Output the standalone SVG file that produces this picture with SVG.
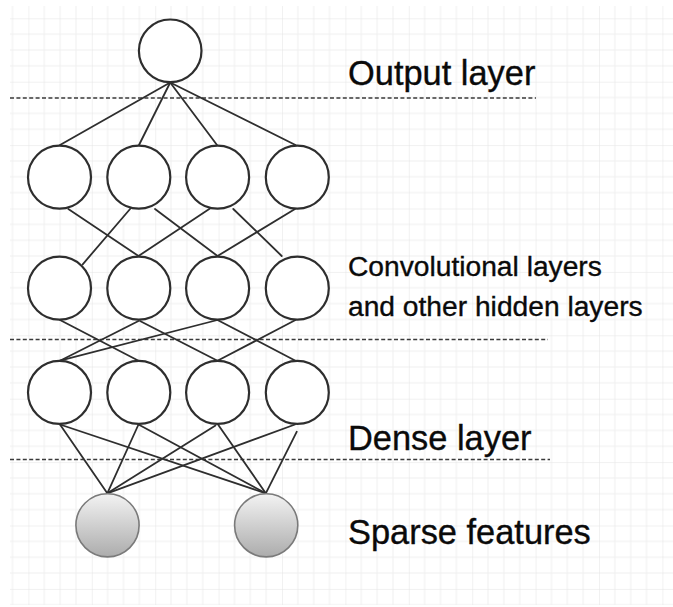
<svg xmlns="http://www.w3.org/2000/svg" width="673" height="607" viewBox="0 0 673 607">
  <style>
    .node { fill: #ffffff; stroke: #2e2e2e; stroke-width: 2.2; }
    .sparse { fill: url(#sparseFill); stroke: #7a7a7a; stroke-width: 1.6; }
    .edge { stroke: #2e2e2e; stroke-width: 1.8; fill: none; stroke-linecap: round; }
    .divider { stroke: #3a3a3a; stroke-width: 1.5; stroke-dasharray: 4 2.4; fill: none; }
    .label { font-family: "Liberation Sans", Arial, Helvetica, sans-serif; fill: #0a0a0a; stroke: #0a0a0a; stroke-width: 0.35; }
    .big { font-size: 34.4px; }
    .small { font-size: 28.2px; }
  </style>
  <defs>
    <pattern id="grid" patternUnits="userSpaceOnUse" x="28.4" y="18.3" width="63.4" height="63.4">
      <path d="M15.85 0V63.4M31.7 0V63.4M47.55 0V63.4M0 15.85H63.4M0 31.7H63.4M0 47.55H63.4" stroke="#f0f0f0" stroke-width="1" fill="none"/>
      <path d="M0 0V63.4M0 0H63.4" stroke="#e3e3e3" stroke-width="1" fill="none"/>
    </pattern>
    <linearGradient id="sparseFill" x1="0" y1="0" x2="0" y2="1">
      <stop offset="0" stop-color="#f3f3f3"/>
      <stop offset="1" stop-color="#acacac"/>
    </linearGradient>
  </defs>

  <!-- canvas -->
  <rect x="0" y="0" width="673" height="607" fill="#ffffff"/>
  <rect x="10" y="6" width="663" height="599" fill="url(#grid)"/>

  <!-- layer dividers -->
  <g id="dividers">
    <line class="divider" x1="10" y1="98" x2="536" y2="98"/>
    <line class="divider" x1="10" y1="339.5" x2="548" y2="339.5"/>
    <line class="divider" x1="10" y1="459.5" x2="550" y2="459.5"/>
  </g>

  <!-- connectors -->
  <g id="edges">
    <!-- output -> first hidden row -->
    <line class="edge" x1="170.2" y1="82.5" x2="60" y2="145"/>
    <line class="edge" x1="170.2" y1="82.5" x2="139" y2="145"/>
    <line class="edge" x1="170.2" y1="82.5" x2="217" y2="145"/>
    <line class="edge" x1="170.2" y1="82.5" x2="295.5" y2="145"/>
    <!-- first hidden row -> second hidden row -->
    <line class="edge" x1="68.3" y1="209" x2="138.5" y2="256"/>
    <line class="edge" x1="130.5" y1="208.5" x2="82.7" y2="264.3"/>
    <line class="edge" x1="155" y1="209" x2="217.5" y2="256"/>
    <line class="edge" x1="210" y1="208.5" x2="138.5" y2="256"/>
    <line class="edge" x1="233.3" y1="209" x2="281.7" y2="256"/>
    <line class="edge" x1="295" y1="209" x2="217.5" y2="256"/>
    <!-- second hidden row -> dense row -->
    <line class="edge" x1="60" y1="320" x2="138.5" y2="360.7"/>
    <line class="edge" x1="138.5" y1="321" x2="60" y2="360.7"/>
    <line class="edge" x1="140" y1="321" x2="217.5" y2="360.7"/>
    <line class="edge" x1="217.5" y1="320" x2="60" y2="360.7"/>
    <line class="edge" x1="217.5" y1="320" x2="295.5" y2="360.7"/>
    <line class="edge" x1="295.5" y1="320" x2="217.5" y2="360.7"/>
    <!-- dense row -> sparse features -->
    <line class="edge" x1="60" y1="424.5" x2="107.3" y2="493.3"/>
    <line class="edge" x1="60" y1="424.5" x2="265.8" y2="493.3"/>
    <line class="edge" x1="138.5" y1="424.5" x2="107.3" y2="493.3"/>
    <line class="edge" x1="138.5" y1="424.5" x2="265.8" y2="493.3"/>
    <line class="edge" x1="215.5" y1="425.5" x2="107.3" y2="493.3"/>
    <line class="edge" x1="218" y1="424.5" x2="265.8" y2="493.3"/>
    <line class="edge" x1="295" y1="424.5" x2="107.3" y2="493.3"/>
    <line class="edge" x1="296.8" y1="431.7" x2="265.8" y2="493.3"/>
  </g>

  <!-- output layer -->
  <g id="out"><circle class="node" cx="170.2" cy="50.8" r="31.3"/></g>

  <!-- first hidden row -->
  <g id="h1_1"><circle class="node" cx="59.5" cy="177.2" r="31.5"/></g>
  <g id="h1_2"><circle class="node" cx="138.8" cy="177.2" r="31.5"/></g>
  <g id="h1_3"><circle class="node" cx="217.6" cy="177.2" r="31.5"/></g>
  <g id="h1_4"><circle class="node" cx="297.3" cy="177.2" r="31.5"/></g>

  <!-- second hidden row -->
  <g id="h2_1"><circle class="node" cx="59.5" cy="288.2" r="31.5"/></g>
  <g id="h2_2"><circle class="node" cx="138.8" cy="288.2" r="31.5"/></g>
  <g id="h2_3"><circle class="node" cx="217.6" cy="288.2" r="31.5"/></g>
  <g id="h2_4"><circle class="node" cx="297.3" cy="288.2" r="31.5"/></g>

  <!-- dense row -->
  <g id="d_1"><circle class="node" cx="59.5" cy="392.4" r="31.5"/></g>
  <g id="d_2"><circle class="node" cx="138.8" cy="392.4" r="31.5"/></g>
  <g id="d_3"><circle class="node" cx="217.6" cy="392.4" r="31.5"/></g>
  <g id="d_4"><circle class="node" cx="297.3" cy="392.4" r="31.5"/></g>

  <!-- sparse features -->
  <g id="s_1"><circle class="sparse" cx="107.5" cy="525.3" r="31.6"/></g>
  <g id="s_2"><circle class="sparse" cx="266.2" cy="525.3" r="31.6"/></g>

  <!-- layer captions -->
  <g id="labels">
    <text class="label big" x="348" y="85">Output layer</text>
    <text class="label small" x="348" y="276.3">Convolutional layers</text>
    <text class="label small" x="348" y="315.8">and other hidden layers</text>
    <text class="label big" x="348" y="449.5">Dense layer</text>
    <text class="label big" x="348" y="544.3">Sparse features</text>
  </g>
</svg>
